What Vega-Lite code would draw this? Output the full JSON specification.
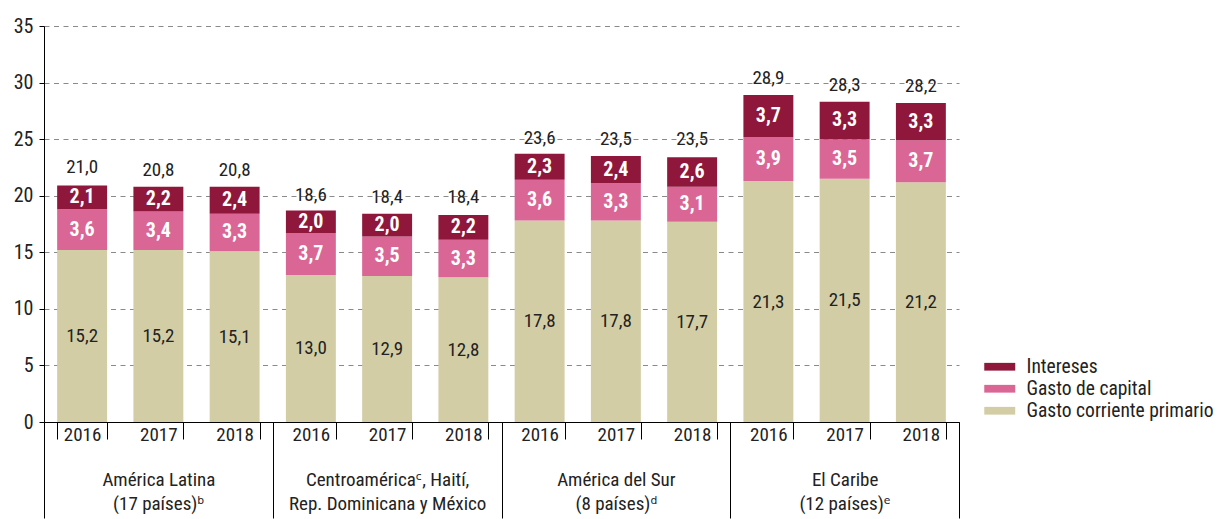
{
  "$schema": "https://vega.github.io/schema/vega-lite/v6.json",
  "width": 915,
  "height": 396,
  "padding": {"left": 13, "top": 16, "right": 0, "bottom": 0},
  "config": {
    "font": "Liberation Sans Narrow, Roboto Condensed, DejaVu Sans Condensed, Arial Narrow, sans-serif",
    "view": {"stroke": null},
    "locale": {"number": {"decimal": ",", "thousands": ".", "grouping": [3], "currency": ["", ""]}}
  },
  "datasets": {
    "parts": [
      {"bar": "AL 2016", "comp": "Gasto corriente primario", "value": 15.2},
      {"bar": "AL 2016", "comp": "Gasto de capital", "value": 3.6},
      {"bar": "AL 2016", "comp": "Intereses", "value": 2.1},
      {"bar": "AL 2017", "comp": "Gasto corriente primario", "value": 15.2},
      {"bar": "AL 2017", "comp": "Gasto de capital", "value": 3.4},
      {"bar": "AL 2017", "comp": "Intereses", "value": 2.2},
      {"bar": "AL 2018", "comp": "Gasto corriente primario", "value": 15.1},
      {"bar": "AL 2018", "comp": "Gasto de capital", "value": 3.3},
      {"bar": "AL 2018", "comp": "Intereses", "value": 2.4},
      {"bar": "CA 2016", "comp": "Gasto corriente primario", "value": 13.0},
      {"bar": "CA 2016", "comp": "Gasto de capital", "value": 3.7},
      {"bar": "CA 2016", "comp": "Intereses", "value": 2.0},
      {"bar": "CA 2017", "comp": "Gasto corriente primario", "value": 12.9},
      {"bar": "CA 2017", "comp": "Gasto de capital", "value": 3.5},
      {"bar": "CA 2017", "comp": "Intereses", "value": 2.0},
      {"bar": "CA 2018", "comp": "Gasto corriente primario", "value": 12.8},
      {"bar": "CA 2018", "comp": "Gasto de capital", "value": 3.3},
      {"bar": "CA 2018", "comp": "Intereses", "value": 2.2},
      {"bar": "AS 2016", "comp": "Gasto corriente primario", "value": 17.8},
      {"bar": "AS 2016", "comp": "Gasto de capital", "value": 3.6},
      {"bar": "AS 2016", "comp": "Intereses", "value": 2.3},
      {"bar": "AS 2017", "comp": "Gasto corriente primario", "value": 17.8},
      {"bar": "AS 2017", "comp": "Gasto de capital", "value": 3.3},
      {"bar": "AS 2017", "comp": "Intereses", "value": 2.4},
      {"bar": "AS 2018", "comp": "Gasto corriente primario", "value": 17.7},
      {"bar": "AS 2018", "comp": "Gasto de capital", "value": 3.1},
      {"bar": "AS 2018", "comp": "Intereses", "value": 2.6},
      {"bar": "EC 2016", "comp": "Gasto corriente primario", "value": 21.3},
      {"bar": "EC 2016", "comp": "Gasto de capital", "value": 3.9},
      {"bar": "EC 2016", "comp": "Intereses", "value": 3.7},
      {"bar": "EC 2017", "comp": "Gasto corriente primario", "value": 21.5},
      {"bar": "EC 2017", "comp": "Gasto de capital", "value": 3.5},
      {"bar": "EC 2017", "comp": "Intereses", "value": 3.3},
      {"bar": "EC 2018", "comp": "Gasto corriente primario", "value": 21.2},
      {"bar": "EC 2018", "comp": "Gasto de capital", "value": 3.7},
      {"bar": "EC 2018", "comp": "Intereses", "value": 3.3}
    ],
    "totals": [
      {"bar": "AL 2016", "total": 21.0},
      {"bar": "AL 2017", "total": 20.8},
      {"bar": "AL 2018", "total": 20.8},
      {"bar": "CA 2016", "total": 18.6},
      {"bar": "CA 2017", "total": 18.4},
      {"bar": "CA 2018", "total": 18.4},
      {"bar": "AS 2016", "total": 23.6},
      {"bar": "AS 2017", "total": 23.5},
      {"bar": "AS 2018", "total": 23.5},
      {"bar": "EC 2016", "total": 28.9},
      {"bar": "EC 2017", "total": 28.3},
      {"bar": "EC 2018", "total": 28.2}
    ],
    "groups": [
      {"group": "América Latina|(17 países)ᵇ"},
      {"group": "Centroaméricaᶜ, Haití,|Rep. Dominicana y México"},
      {"group": "América del Sur|(8 países)ᵈ"},
      {"group": "El Caribe|(12 países)ᵉ"}
    ]
  },
  "resolve": {"scale": {"x": "independent"}, "axis": {"x": "independent"}},
  "layer": [
    {
      "data": {"name": "groups"},
      "mark": {"type": "text", "opacity": 0},
      "encoding": {
        "x": {
          "field": "group", "type": "nominal", "sort": null,
          "scale": {"paddingInner": 0, "paddingOuter": 0},
          "axis": {
            "title": null, "orient": "bottom", "tickBand": "extent", "tickSize": 96,
            "tickColor": "#000", "domainColor": "#000", "labelAngle": 0,
            "labelPadding": -48, "labelFontSize": 19, "labelColor": "#222",
            "labelLineHeight": 24, "labelBaseline": "top", "labelLimit": 0,
            "labelExpr": "datum.value == null ? '' : split(datum.value, '|')"
          }
        },
        "text": {"value": "."}
      }
    },
    {
      "data": {"name": "parts"},
      "transform": [
        {"stack": "value", "groupby": ["bar"], "sort": [{"field": "comp", "order": "ascending"}], "as": ["y0", "y1"]},
        {"calculate": "(datum.y0 + datum.y1) / 2", "as": "mid"}
      ],
      "encoding": {
        "x": {
          "field": "bar", "type": "nominal", "sort": null,
          "scale": {"paddingInner": 0.345, "paddingOuter": 0.1725},
          "axis": {
            "title": null, "orient": "bottom", "tickBand": "extent", "tickSize": 17,
            "tickColor": "#000", "domainColor": "#000", "labelAngle": 0,
            "labelPadding": -14, "labelFontSize": 19, "labelColor": "#222",
            "labelExpr": "datum.value == null ? '' : split(datum.value, ' ')[1]"
          }
        }
      },
      "layer": [
        {
          "mark": {"type": "bar"},
          "encoding": {
            "y": {
              "field": "y0", "type": "quantitative",
              "scale": {"domain": [0, 35]},
              "axis": {
                "title": null, "values": [0, 5, 10, 15, 20, 25, 30, 35],
                "grid": true, "gridDash": [5, 4.5], "gridColor": "#8a8a8a", "gridWidth": 1,
                "tickSize": 5, "tickColor": "#000", "domainColor": "#000",
                "labelPadding": 6, "labelFontSize": 20, "labelColor": "#222"
              }
            },
            "y2": {"field": "y1"},
            "color": {
              "field": "comp", "type": "nominal",
              "sort": ["Intereses", "Gasto de capital", "Gasto corriente primario"],
              "scale": {
                "domain": ["Intereses", "Gasto de capital", "Gasto corriente primario"],
                "range": ["#8e173b", "#da6696", "#d3cda6"]
              },
              "legend": {
                "title": null, "orient": "none", "legendX": 946, "legendY": 331,
                "symbolType": "M-2,-0.5H2V0.5H-2Z", "symbolSize": 240, "symbolStrokeWidth": 0,
                "labelFontSize": 19.5, "labelColor": "#222", "labelOffset": 17, "labelLimit": 0,
                "rowPadding": 1
              }
            }
          }
        },
        {
          "transform": [{"filter": "datum.comp !== 'Gasto corriente primario'"}],
          "mark": {"type": "text", "fontSize": 20, "fontWeight": "bold", "color": "white", "baseline": "middle"},
          "encoding": {
            "y": {"field": "mid", "type": "quantitative"},
            "text": {"field": "value", "type": "quantitative", "format": ".1f"}
          }
        },
        {
          "transform": [{"filter": "datum.comp === 'Gasto corriente primario'"}],
          "mark": {"type": "text", "fontSize": 19, "color": "#222", "baseline": "middle"},
          "encoding": {
            "y": {"field": "mid", "type": "quantitative"},
            "text": {"field": "value", "type": "quantitative", "format": ".1f"}
          }
        }
      ]
    },
    {
      "data": {"name": "totals"},
      "mark": {"type": "text", "fontSize": 19, "color": "#222", "baseline": "bottom", "dy": -7},
      "encoding": {
        "x": {"field": "bar", "type": "nominal", "sort": null, "axis": null,
              "scale": {"paddingInner": 0.345, "paddingOuter": 0.1725}},
        "y": {"field": "total", "type": "quantitative"},
        "text": {"field": "total", "type": "quantitative", "format": ".1f"}
      }
    }
  ]
}
